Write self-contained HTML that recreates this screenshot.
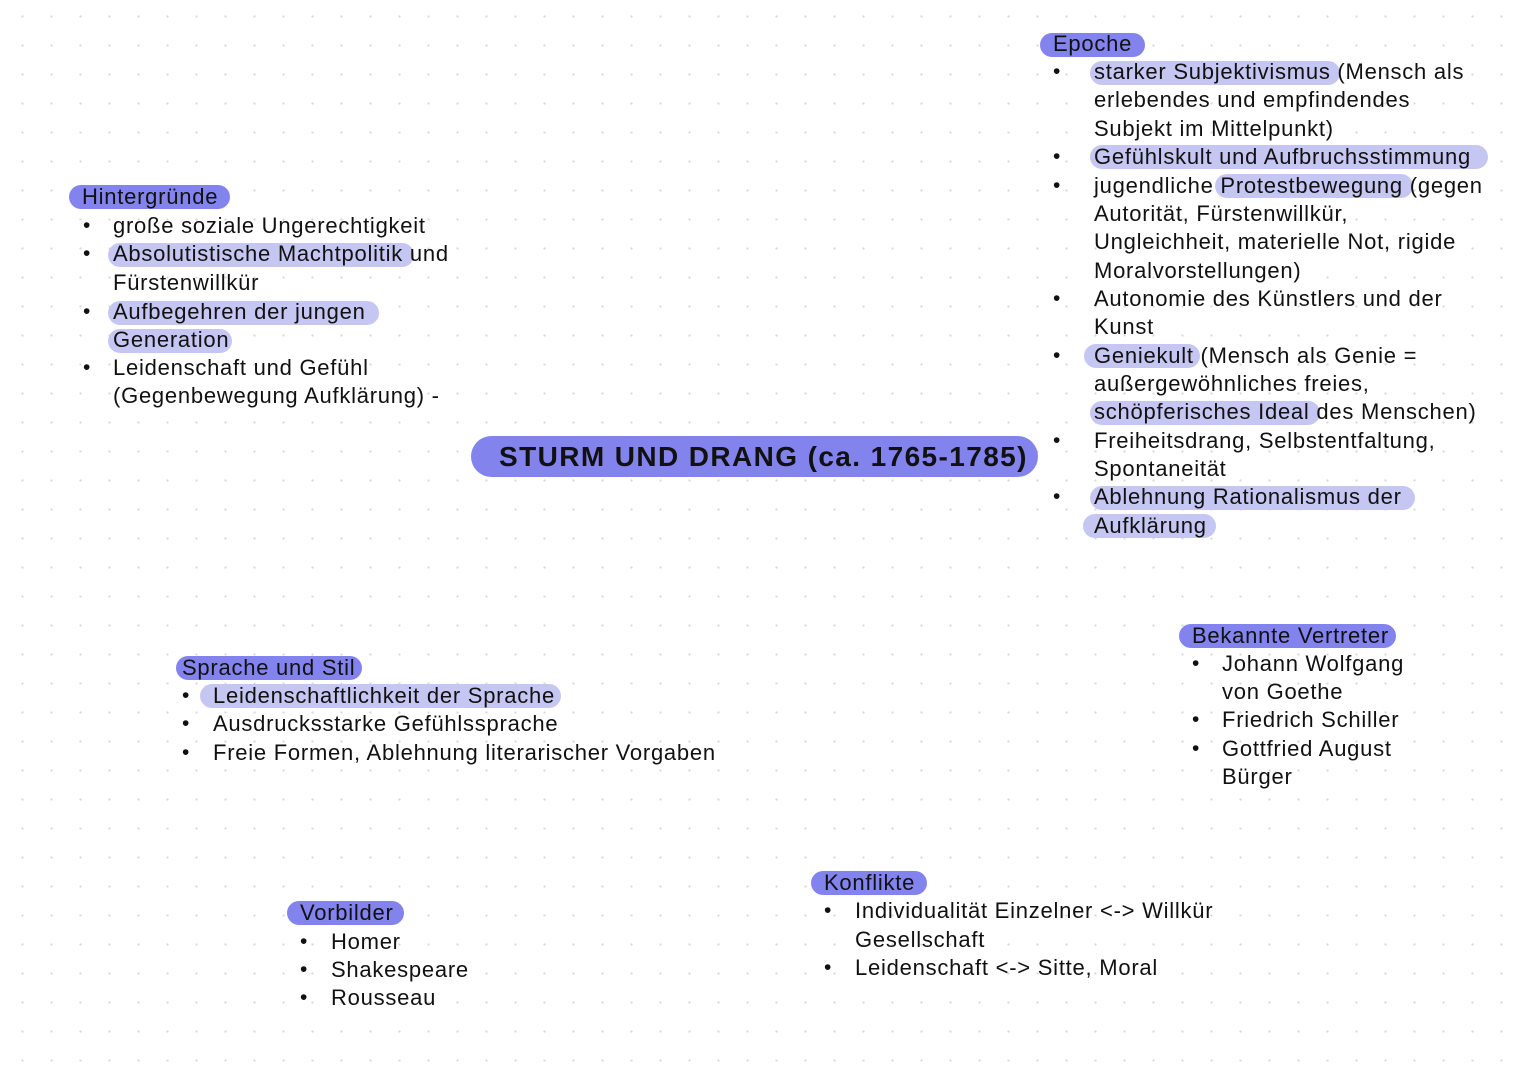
<!DOCTYPE html>
<html><head><meta charset="utf-8"><style>
body{margin:0;width:1527px;height:1080px;overflow:hidden;background:#fff;
background-image:radial-gradient(circle,#d8d8d8 1px,transparent 1.3px);background-size:29px 29px;background-position:8px 2px;
font-family:"Liberation Sans",Arial,sans-serif;color:#111;position:relative}
.h{position:absolute;border-radius:13px;background:#8383ee}
.l{position:absolute;border-radius:13px;background:#c6c6f3}
.t{position:absolute;font-size:22px;line-height:28px;white-space:nowrap;height:28px;letter-spacing:0.75px}
.b{position:absolute;font-size:21px;line-height:28px}
</style></head><body>
<div class="h" style="left:471px;top:436px;width:567px;height:41px;border-radius:21px"></div>
<div class="t" style="left:499px;top:442px;font-size:28px;font-weight:bold;line-height:30px;letter-spacing:1.4px">STURM UND DRANG (ca. 1765-1785)</div>

<div class="h" style="left:1040px;top:33px;width:105px;height:24px"></div>
<div class="l" style="left:1090px;top:61px;width:250px;height:24px"></div>
<div class="l" style="left:1090px;top:145px;width:398px;height:24px"></div>
<div class="l" style="left:1215px;top:174px;width:198px;height:24px"></div>
<div class="l" style="left:1084px;top:344px;width:116px;height:24px"></div>
<div class="l" style="left:1090px;top:401px;width:230px;height:24px"></div>
<div class="l" style="left:1090px;top:486px;width:325px;height:24px"></div>
<div class="l" style="left:1083px;top:514px;width:133px;height:24px"></div>
<div class="t" style="left:1053px;top:30px">Epoche</div>
<div class="t" style="left:1094px;top:58px">starker Subjektivismus (Mensch als</div>
<div class="t" style="left:1094px;top:86px">erlebendes und empfindendes</div>
<div class="t" style="left:1094px;top:115px">Subjekt im Mittelpunkt)</div>
<div class="t" style="left:1094px;top:143px">Gefühlskult und Aufbruchsstimmung</div>
<div class="t" style="left:1094px;top:172px">jugendliche Protestbewegung (gegen</div>
<div class="t" style="left:1094px;top:200px">Autorität, Fürstenwillkür,</div>
<div class="t" style="left:1094px;top:228px">Ungleichheit, materielle Not, rigide</div>
<div class="t" style="left:1094px;top:257px">Moralvorstellungen)</div>
<div class="t" style="left:1094px;top:285px">Autonomie des Künstlers und der</div>
<div class="t" style="left:1094px;top:313px">Kunst</div>
<div class="t" style="left:1094px;top:342px">Geniekult (Mensch als Genie =</div>
<div class="t" style="left:1094px;top:370px">außergewöhnliches freies,</div>
<div class="t" style="left:1094px;top:398px">schöpferisches Ideal des Menschen)</div>
<div class="t" style="left:1094px;top:427px">Freiheitsdrang, Selbstentfaltung,</div>
<div class="t" style="left:1094px;top:455px">Spontaneität</div>
<div class="t" style="left:1094px;top:483px">Ablehnung Rationalismus der</div>
<div class="t" style="left:1094px;top:512px">Aufklärung</div>
<div class="b" style="left:1053px;top:58px">•</div>
<div class="b" style="left:1053px;top:143px">•</div>
<div class="b" style="left:1053px;top:172px">•</div>
<div class="b" style="left:1053px;top:285px">•</div>
<div class="b" style="left:1053px;top:342px">•</div>
<div class="b" style="left:1053px;top:427px">•</div>
<div class="b" style="left:1053px;top:483px">•</div>

<div class="h" style="left:69px;top:185px;width:161px;height:24px"></div>
<div class="l" style="left:108px;top:243px;width:306px;height:24px"></div>
<div class="l" style="left:108px;top:301px;width:271px;height:24px"></div>
<div class="l" style="left:108px;top:329px;width:124px;height:24px"></div>
<div class="t" style="left:82px;top:183px">Hintergründe</div>
<div class="t" style="left:113px;top:212px">große soziale Ungerechtigkeit</div>
<div class="t" style="left:113px;top:240px">Absolutistische Machtpolitik und</div>
<div class="t" style="left:113px;top:269px">Fürstenwillkür</div>
<div class="t" style="left:113px;top:298px">Aufbegehren der jungen</div>
<div class="t" style="left:113px;top:326px">Generation</div>
<div class="t" style="left:113px;top:354px">Leidenschaft und Gefühl</div>
<div class="t" style="left:113px;top:382px">(Gegenbewegung Aufklärung) -</div>
<div class="b" style="left:83px;top:212px">•</div>
<div class="b" style="left:83px;top:240px">•</div>
<div class="b" style="left:83px;top:298px">•</div>
<div class="b" style="left:83px;top:354px">•</div>

<div class="h" style="left:176px;top:656px;width:186px;height:24px"></div>
<div class="l" style="left:200px;top:684px;width:361px;height:24px"></div>
<div class="t" style="left:182px;top:654px">Sprache und Stil</div>
<div class="t" style="left:213px;top:682px">Leidenschaftlichkeit der Sprache</div>
<div class="t" style="left:213px;top:710px">Ausdrucksstarke Gefühlssprache</div>
<div class="t" style="left:213px;top:739px">Freie Formen, Ablehnung literarischer Vorgaben</div>
<div class="b" style="left:182px;top:682px">•</div>
<div class="b" style="left:182px;top:710px">•</div>
<div class="b" style="left:182px;top:739px">•</div>

<div class="h" style="left:1179px;top:624px;width:217px;height:24px"></div>
<div class="t" style="left:1192px;top:622px">Bekannte Vertreter</div>
<div class="t" style="left:1222px;top:650px">Johann Wolfgang</div>
<div class="t" style="left:1222px;top:678px">von Goethe</div>
<div class="t" style="left:1222px;top:706px">Friedrich Schiller</div>
<div class="t" style="left:1222px;top:735px">Gottfried August</div>
<div class="t" style="left:1222px;top:763px">Bürger</div>
<div class="b" style="left:1192px;top:650px">•</div>
<div class="b" style="left:1192px;top:706px">•</div>
<div class="b" style="left:1192px;top:735px">•</div>

<div class="h" style="left:811px;top:871px;width:116px;height:24px"></div>
<div class="t" style="left:824px;top:869px">Konflikte</div>
<div class="t" style="left:855px;top:897px">Individualität Einzelner &lt;-&gt; Willkür</div>
<div class="t" style="left:855px;top:926px">Gesellschaft</div>
<div class="t" style="left:855px;top:954px">Leidenschaft &lt;-&gt; Sitte, Moral</div>
<div class="b" style="left:824px;top:897px">•</div>
<div class="b" style="left:824px;top:954px">•</div>

<div class="h" style="left:287px;top:901px;width:117px;height:24px"></div>
<div class="t" style="left:300px;top:899px">Vorbilder</div>
<div class="t" style="left:331px;top:928px">Homer</div>
<div class="t" style="left:331px;top:956px">Shakespeare</div>
<div class="t" style="left:331px;top:984px">Rousseau</div>
<div class="b" style="left:300px;top:928px">•</div>
<div class="b" style="left:300px;top:956px">•</div>
<div class="b" style="left:300px;top:984px">•</div>
</body></html>
